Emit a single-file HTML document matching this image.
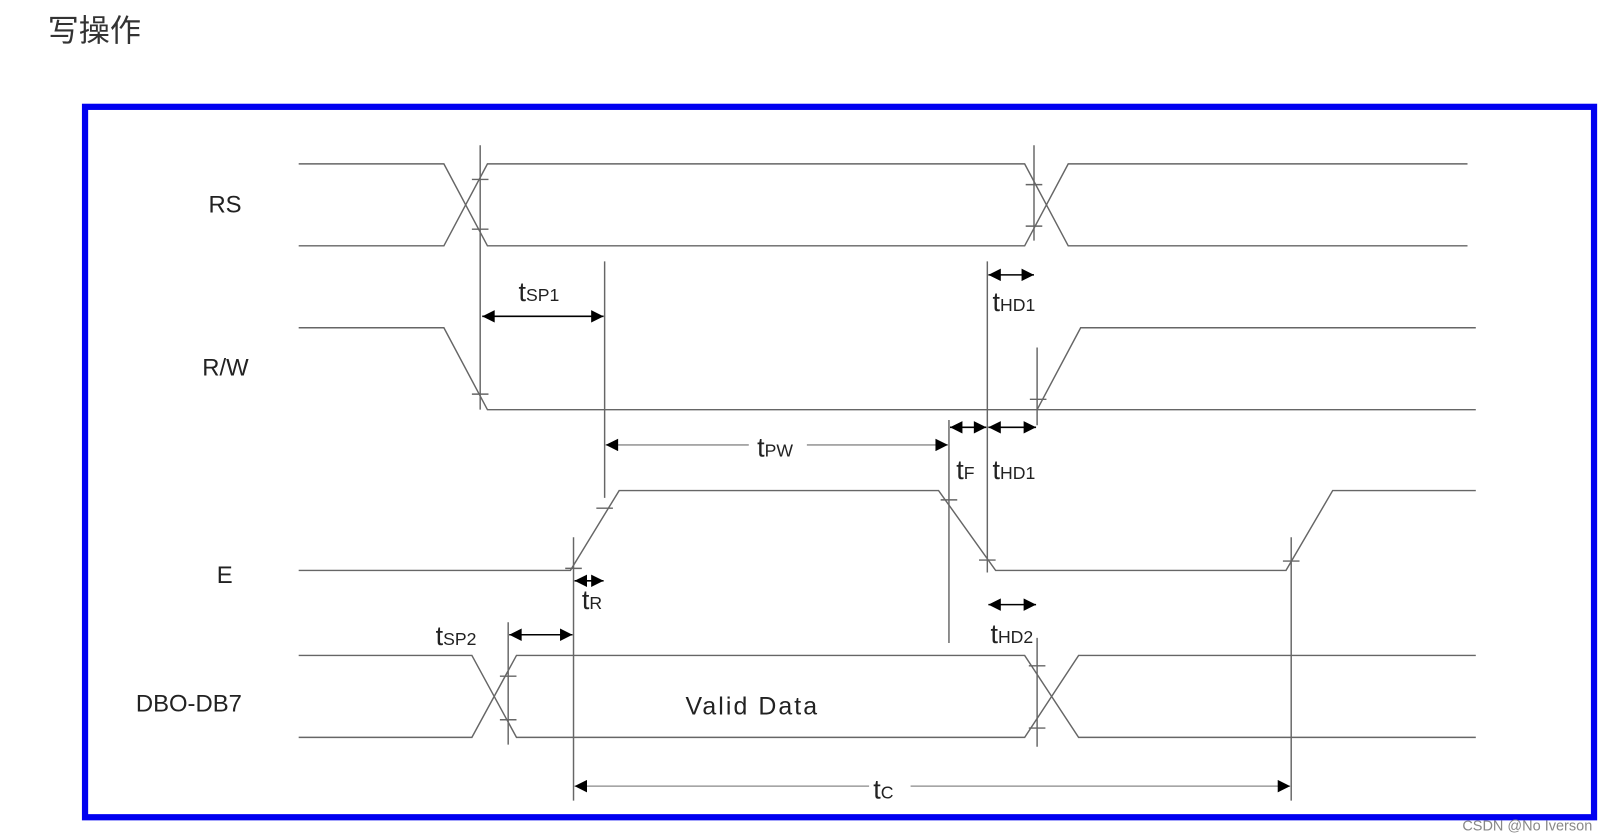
<!DOCTYPE html>
<html><head><meta charset="utf-8"><style>
html,body{margin:0;padding:0;background:#fff;width:1621px;height:838px;overflow:hidden}
svg{display:block}
text{font-family:"Liberation Sans","Noto Sans CJK SC",sans-serif;fill:#222}
</style></head><body>
<svg width="1621" height="838" viewBox="0 0 1563 808" xmlns="http://www.w3.org/2000/svg">
<defs>
<marker id="a" viewBox="0 0 10 10" refX="10" refY="5" markerWidth="14" markerHeight="12" markerUnits="userSpaceOnUse" orient="auto-start-reverse"><path d="M0,0L10,5L0,10z" fill="#000"/></marker>
</defs>
<text x="46" y="40" font-size="30" fill="#333" style="fill:#333">写操作</text>
<rect x="82" y="103" width="1455" height="685" fill="none" stroke="#0000f0" stroke-width="6"/>
<g font-size="23" font-family="Liberation Sans,sans-serif">
<text x="201" y="205">RS</text>
<text x="195" y="362">R/W</text>
<text x="209" y="562">E</text>
<text x="131" y="686">DBO-DB7</text>
</g>
<g stroke="#666" stroke-width="1.4" fill="none">
<path d="M288,158H428L470,237H988L1030,158H1415"/>
<path d="M288,237H428L470,158H988L1030,237H1415"/>
<path d="M288,316H428L470,395H1423"/>
<path d="M1000,395L1042,316H1423"/>
<path d="M288,550H550L597,473H905L960,550H1240L1285,473H1423"/>
<path d="M288,632H455L498,711H988L1040,632H1423"/>
<path d="M288,711H455L498,632H988L1040,711H1423"/>
<path d="M463,140V395M583,252V480M952,252V552M997,140V232M1000,335V410M915,405V620M553,518V772M1245,518V772M490,600V718M1000,615V720"/>
<path d="M455,173H471M455,221H471M989,178H1005M989,218H1005M455,380H471M993,385H1009M575,490H591M907,482H923M944,540H960M545,548H561M1237,541H1253M482,652H498M482,694H498M992,642H1008M992,702H1008"/>
</g>
<g stroke="#000" stroke-width="1.5">
<line x1="465" y1="305" x2="582" y2="305" marker-start="url(#a)" marker-end="url(#a)"/>
<line x1="953" y1="265" x2="997" y2="265" marker-start="url(#a)" marker-end="url(#a)"/>
<line x1="916" y1="412" x2="951" y2="412" marker-start="url(#a)" marker-end="url(#a)"/>
<line x1="953" y1="412" x2="999" y2="412" marker-start="url(#a)" marker-end="url(#a)"/>
<line x1="554" y1="560" x2="582" y2="560" marker-start="url(#a)" marker-end="url(#a)"/>
<line x1="491" y1="612" x2="552" y2="612" marker-start="url(#a)" marker-end="url(#a)"/>
<line x1="953" y1="583" x2="999" y2="583" marker-start="url(#a)" marker-end="url(#a)"/>
</g>
<g stroke="#888" stroke-width="1.3">
<line x1="584" y1="429" x2="722" y2="429" marker-start="url(#a)"/>
<line x1="778" y1="429" x2="914" y2="429" marker-end="url(#a)"/>
<line x1="554" y1="758" x2="838" y2="758" marker-start="url(#a)"/>
<line x1="878" y1="758" x2="1244" y2="758" marker-end="url(#a)"/>
</g>
<g font-family="Liberation Sans,sans-serif">
<text x="500" y="290"><tspan font-size="26">t</tspan><tspan font-size="17">SP1</tspan></text>
<text x="957" y="300"><tspan font-size="26">t</tspan><tspan font-size="17">HD1</tspan></text>
<text x="730" y="440"><tspan font-size="26">t</tspan><tspan font-size="17">PW</tspan></text>
<text x="922" y="462"><tspan font-size="26">t</tspan><tspan font-size="17">F</tspan></text>
<text x="957" y="462"><tspan font-size="26">t</tspan><tspan font-size="17">HD1</tspan></text>
<text x="561" y="587"><tspan font-size="26">t</tspan><tspan font-size="17">R</tspan></text>
<text x="420" y="622"><tspan font-size="26">t</tspan><tspan font-size="17">SP2</tspan></text>
<text x="955" y="620"><tspan font-size="26">t</tspan><tspan font-size="17">HD2</tspan></text>
<text x="842" y="770"><tspan font-size="26">t</tspan><tspan font-size="17">C</tspan></text>
<text x="661" y="689" font-size="24" letter-spacing="2">Valid Data</text>
</g>
<text x="1410" y="801" font-size="14" style="fill:#888">CSDN @No  Iverson</text>
</svg>
</body></html>
